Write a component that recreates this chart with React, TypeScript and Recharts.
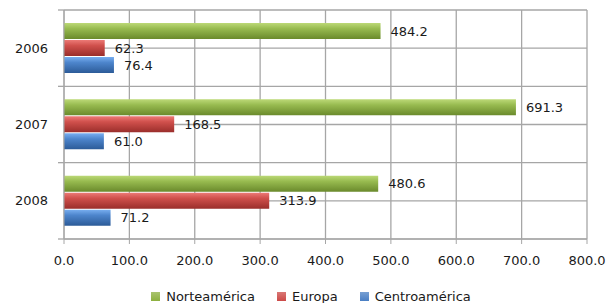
import React from "react";
import { BarChart, Bar, XAxis, YAxis, CartesianGrid, Legend, LabelList } from "recharts";

const years = ["2006", "2007", "2008"];
const norteamerica = [484.2, 691.3, 480.6];
const europa = [62.3, 168.5, 313.9];
const centroamerica = [76.4, 61.0, 71.2];
const xTicks = [0, 100, 200, 300, 400, 500, 600, 700, 800];
const yTicks = [0, 0.5, 1, 1.5, 2, 2.5, 3];

const series = [
  { key: "norte", name: "Norteamérica", grad: "gN", color: "#8db03f" },
  { key: "europa", name: "Europa", grad: "gE", color: "#cc4a47" },
  { key: "centro", name: "Centroamérica", grad: "gC", color: "#4a7fc4" },
];

const data = years.map((y, i) => ({
  year: y,
  pos: i + 0.5,
  norte: norteamerica[i],
  europa: europa[i],
  centro: centroamerica[i],
}));

const FONT = "'DejaVu Sans', Verdana, sans-serif";
const FS = 13;
const TXT = "#1a1a1a";
const GRID = "#a6a6a6";
const TICK_SIZE = 6;
const TICK_MARGIN = 10;
const fmt = (v: number) => Number(v).toFixed(1);

const YTick = (props: any) => {
  const { x, y, payload } = props;
  const v = payload.value as number;
  if (v % 1 === 0.5) {
    return (
      <text x={x} y={y} dy={4.5} textAnchor="end" fill={TXT} fontSize={FS} fontFamily={FONT}>
        {years[Math.floor(v)]}
      </text>
    );
  }
  const x0 = x + TICK_MARGIN;
  return <line x1={x0} x2={x0 + TICK_SIZE} y1={y} y2={y} stroke={GRID} strokeWidth={1.3} />;
};

const LegendContent = () => (
  <div style={{ display: "flex", justifyContent: "center", fontFamily: FONT, fontSize: FS, color: TXT, paddingLeft: 35 }}>
    {series.map((s, i) => (
      <div key={s.key} style={{ display: "flex", alignItems: "center", marginRight: i < series.length - 1 ? 22 : 0 }}>
        <svg width={9} height={9} style={{ marginRight: 6 }}>
          <defs>
            <linearGradient id={`${s.grad}L`} x1="0" y1="0" x2="0" y2="1">
              <stop offset="0%" stopColor={s.color} stopOpacity={0.75} />
              <stop offset="100%" stopColor={s.color} />
            </linearGradient>
          </defs>
          <rect x={0} y={0} width={9} height={9} fill={`url(#${s.grad}L)`} />
        </svg>
        <span>{s.name}</span>
      </div>
    ))}
  </div>
);

export default function App() {
  return (
    <div style={{ position: "absolute", left: 0, top: 0, fontFamily: FONT }}>
      <BarChart
        width={608}
        height={303}
        data={data}
        layout="vertical"
        margin={{ top: 10, right: 21, left: 0, bottom: 15 }}
        barGap={1}
        barSize={16}
      >
        <defs>
          <linearGradient id="gN" x1="0" y1="0" x2="0" y2="1">
            <stop offset="0%" stopColor="#bcd977" />
            <stop offset="35%" stopColor="#98bb50" />
            <stop offset="100%" stopColor="#6a8a2c" />
          </linearGradient>
          <linearGradient id="gE" x1="0" y1="0" x2="0" y2="1">
            <stop offset="0%" stopColor="#ec7a76" />
            <stop offset="35%" stopColor="#d0504c" />
            <stop offset="100%" stopColor="#9a2e2b" />
          </linearGradient>
          <linearGradient id="gC" x1="0" y1="0" x2="0" y2="1">
            <stop offset="0%" stopColor="#78aef0" />
            <stop offset="35%" stopColor="#4d85cc" />
            <stop offset="100%" stopColor="#2c5b98" />
          </linearGradient>
        </defs>
        <CartesianGrid stroke={GRID} strokeWidth={1.3} />
        <XAxis
          type="number"
          domain={[0, 800]}
          ticks={xTicks}
          tickFormatter={fmt}
          interval={0}
          tick={{ fill: TXT, fontSize: FS, fontFamily: FONT }}
          stroke={GRID}
          tickSize={5}
          tickMargin={12}
          height={34}
        />
        <YAxis
          type="number"
          dataKey="pos"
          domain={[0, 3]}
          ticks={yTicks}
          interval={0}
          width={64}
          tickLine={false}
          tickSize={TICK_SIZE}
          tickMargin={TICK_MARGIN}
          stroke={GRID}
          tick={<YTick />}
        />
        <Legend verticalAlign="bottom" wrapperStyle={{ top: 289 }} content={<LegendContent />} />
        {series.map((s) => (
          <Bar key={s.key} dataKey={s.key} name={s.name} fill={`url(#${s.grad})`} isAnimationActive={false}>
            <LabelList
              dataKey={s.key}
              position="right"
              offset={10}
              formatter={fmt}
              style={{ fill: TXT, fontSize: FS, fontFamily: FONT }}
            />
          </Bar>
        ))}
      </BarChart>
    </div>
  );
}
